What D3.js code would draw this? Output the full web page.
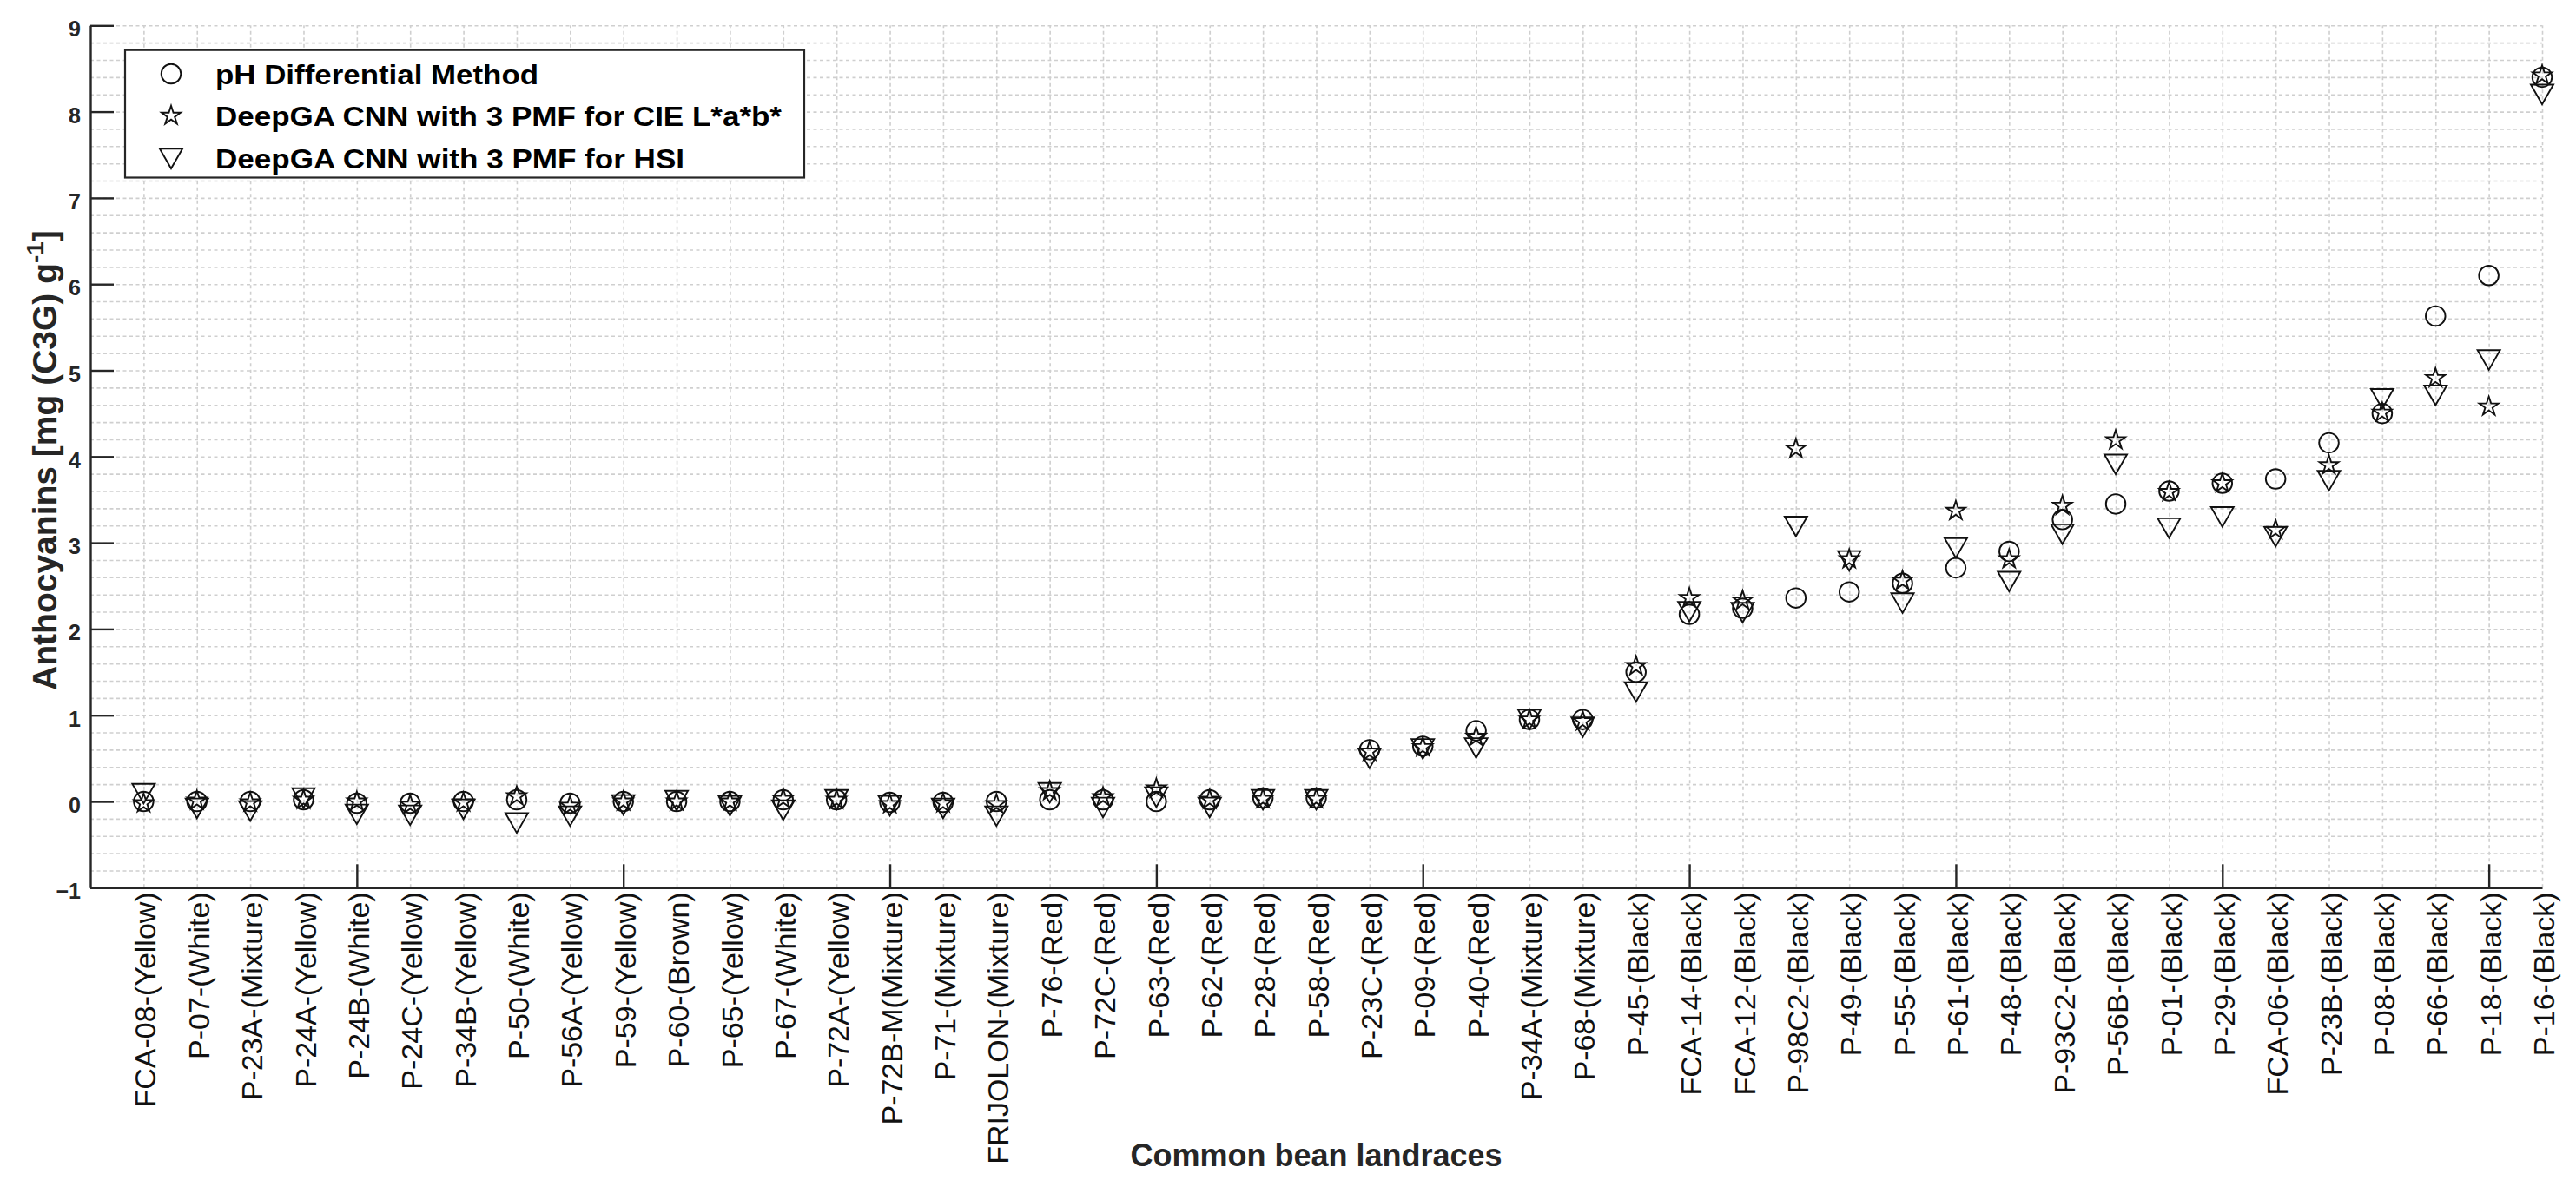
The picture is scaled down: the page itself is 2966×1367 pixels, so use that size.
<!DOCTYPE html>
<html>
<head>
<meta charset="utf-8">
<script src="https://cdn.jsdelivr.net/npm/d3@7"></script>
<style>
  html, body { margin: 0; padding: 0; background: #ffffff; }
  svg { display: block; }
</style>
</head>
<body>
<svg id="chart" width="2966" height="1367"></svg>
<script>
// ---------------- DATA ----------------
const categories = [
  "FCA-08-(Yellow)", "P-07-(White)", "P-23A-(Mixture)", "P-24A-(Yellow)", "P-24B-(White)",
  "P-24C-(Yellow)", "P-34B-(Yellow)", "P-50-(White)", "P-56A-(Yellow)", "P-59-(Yellow)",
  "P-60-(Brown)", "P-65-(Yellow)", "P-67-(White)", "P-72A-(Yellow)", "P-72B-M(Mixture)",
  "P-71-(Mixture)", "FRIJOLON-(Mixture)", "P-76-(Red)", "P-72C-(Red)", "P-63-(Red)",
  "P-62-(Red)", "P-28-(Red)", "P-58-(Red)", "P-23C-(Red)", "P-09-(Red)",
  "P-40-(Red)", "P-34A-(Mixture)", "P-68-(Mixture)", "P-45-(Black)", "FCA-14-(Black)",
  "FCA-12-(Black)", "P-98C2-(Black)", "P-49-(Black)", "P-55-(Black)", "P-61-(Black)",
  "P-48-(Black)", "P-93C2-(Black)", "P-56B-(Black)", "P-01-(Black)", "P-29-(Black)",
  "FCA-06-(Black)", "P-23B-(Black)", "P-08-(Black)", "P-66-(Black)", "P-18-(Black)",
  "P-16-(Black)"
];

// pH Differential Method (circles)
const phValues = [
  0.00, 0.00, 0.00, 0.02, -0.02, -0.02, 0.00, 0.02, -0.02, 0.00,
  0.00, 0.00, 0.02, 0.02, -0.01, -0.01, 0.00, 0.02, 0.02, 0.00,
  0.02, 0.04, 0.04, 0.60, 0.64, 0.82, 0.95, 0.95, 1.50, 2.17,
  2.24, 2.36, 2.43, 2.53, 2.71, 2.90, 3.27, 3.45, 3.60, 3.69,
  3.74, 4.16, 4.50, 5.63, 6.10, 8.40
];

// DeepGA CNN with 3 PMF for CIE L*a*b* (stars)
const cieValues = [
  -0.02, 0.01, -0.01, 0.02, 0.00, -0.04, -0.01, 0.06, -0.05, 0.00,
  0.00, 0.00, 0.03, 0.02, -0.03, -0.02, -0.03, 0.12, 0.05, 0.15,
  0.02, 0.03, 0.03, 0.58, 0.63, 0.75, 0.95, 0.93, 1.57, 2.36,
  2.33, 4.09, 2.81, 2.56, 3.37, 2.81, 3.43, 4.19, 3.59, 3.69,
  3.15, 3.90, 4.51, 4.91, 4.58, 8.42
];

// DeepGA CNN with 3 PMF for HSI (down triangles)
const hsiValues = [
  0.09, -0.08, -0.11, 0.04, -0.15, -0.16, -0.09, -0.25, -0.17, -0.04,
  0.01, -0.05, -0.10, 0.02, -0.05, -0.08, -0.17, 0.10, -0.07, 0.05,
  -0.07, 0.02, 0.02, 0.50, 0.61, 0.62, 0.95, 0.86, 1.27, 2.20,
  2.19, 3.19, 2.79, 2.30, 2.94, 2.55, 3.10, 3.91, 3.17, 3.30,
  3.07, 3.72, 4.67, 4.71, 5.12, 8.20
];

const yTicks = [-1, 0, 1, 2, 3, 4, 5, 6, 7, 8, 9];
const xMajorTicks = [5, 10, 15, 20, 25, 30, 35, 40, 45];
const legendLabels = [
  "pH Differential Method",
  "DeepGA CNN with 3 PMF for CIE L*a*b*",
  "DeepGA CNN with 3 PMF for HSI"
];
const xTitle = "Common bean landraces";

// ---------------- LAYOUT ----------------
const svg = d3.select("#chart");
const X0 = 104, X1 = 2927, Y0 = 1022.3, Y1 = 29.3;
const x = d3.scaleLinear().domain([0, categories.length]).range([X0, X1]);
const y = d3.scaleLinear().domain([-1, 9]).range([Y0, Y1]);

const axisColor = "#262626";
const gridColor = "#cfcfcf";

svg.append("rect").attr("width", 2966).attr("height", 1367).attr("fill", "#fff");

// ---------------- GRID ----------------
const gridG = svg.append("g").attr("class", "grid");
gridG.append("g")
  .attr("transform", `translate(0,${Y0})`)
  .call(d3.axisBottom(x).tickValues(d3.range(1, categories.length + 1))
    .tickSize(-(Y0 - Y1)).tickFormat(""))
  .call(g => g.select(".domain").remove())
  .call(g => g.selectAll("line").attr("stroke", gridColor)
    .attr("stroke-width", 1.6).attr("stroke-dasharray", "4,3.5"));
gridG.append("g")
  .attr("transform", `translate(${X0},0)`)
  .call(d3.axisLeft(y).tickValues(d3.range(-0.8, 9.001, 0.2))
    .tickSize(-(X1 - X0)).tickFormat(""))
  .call(g => g.select(".domain").remove())
  .call(g => g.selectAll("line").attr("stroke", gridColor)
    .attr("stroke-width", 1.6).attr("stroke-dasharray", "4,3.5"));

// ---------------- AXES ----------------
svg.append("g")
  .attr("transform", `translate(${X0},0)`)
  .call(d3.axisLeft(y).tickValues(yTicks).tickFormat(d3.format("d"))
    .tickSizeInner(-27).tickSizeOuter(0).tickPadding(11))
  .call(g => g.select(".domain").attr("stroke", axisColor).attr("stroke-width", 2.4))
  .call(g => g.selectAll(".tick line").attr("stroke", axisColor).attr("stroke-width", 2.4))
  .call(g => g.selectAll(".tick text")
    .attr("fill", axisColor)
    .attr("font-family", "Liberation Sans, Arial, sans-serif")
    .attr("font-weight", "bold")
    .attr("font-size", 25)
    .attr("dy", "0.5em"));

svg.append("g")
  .attr("transform", `translate(0,${Y0})`)
  .call(d3.axisBottom(x).tickValues(d3.range(1, categories.length + 1))
    .tickFormat(d => categories[d - 1]).tickSize(0).tickSizeOuter(0))
  .call(g => g.select(".domain").attr("stroke", axisColor).attr("stroke-width", 2.4))
  .call(g => g.selectAll(".tick text")
    .attr("fill", "#111")
    .attr("font-family", "Liberation Sans, Arial, sans-serif")
    .attr("font-size", 34)
    .attr("transform", "rotate(-90)")
    .attr("text-anchor", "end")
    .attr("x", -5)
    .attr("y", 0)
    .attr("dy", "0.40em"));

svg.append("g")
  .attr("transform", `translate(0,${Y0})`)
  .call(d3.axisBottom(x).tickValues(xMajorTicks).tickFormat("")
    .tickSizeInner(-27).tickSizeOuter(0))
  .call(g => g.select(".domain").remove())
  .call(g => g.selectAll(".tick line").attr("stroke", axisColor).attr("stroke-width", 2.4));

svg.append("text")
  .attr("x", (X0 + X1) / 2)
  .attr("y", 1343)
  .attr("text-anchor", "middle")
  .attr("font-family", "Liberation Sans, Arial, sans-serif")
  .attr("font-weight", "bold")
  .attr("font-size", 36)
  .attr("fill", axisColor)
  .text(xTitle);

const yTitle = svg.append("text")
  .attr("transform", `translate(65,530) rotate(-90)`)
  .attr("text-anchor", "middle")
  .attr("font-family", "Liberation Sans, Arial, sans-serif")
  .attr("font-weight", "bold")
  .attr("font-size", 39)
  .attr("fill", axisColor);
yTitle.append("tspan").text("Anthocyanins [mg (C3G) g");
yTitle.append("tspan").attr("font-size", 28).attr("dy", -15).text("-1");
yTitle.append("tspan").attr("dy", 15).text("]");

// ---------------- MARKERS ----------------
const R_CIRCLE = 11.3;
function starPath(cx, cy, R) {
  const r = R * 0.382;
  const pts = [];
  for (let k = 0; k < 10; k++) {
    const a = -Math.PI / 2 + k * Math.PI / 5;
    const rr = k % 2 === 0 ? R : r;
    pts.push([cx + rr * Math.cos(a), cy + rr * Math.sin(a)]);
  }
  return "M" + pts.map(p => p.join(",")).join("L") + "Z";
}
function triPath(cx, cy) {
  const w = 13, h = 11.3;
  return `M${cx - w},${cy - h}L${cx + w},${cy - h}L${cx},${cy + h}Z`;
}

const markG = svg.append("g").attr("fill", "none").attr("stroke", "#111").attr("stroke-width", 1.9);

markG.selectAll("circle.ph").data(phValues).join("circle")
  .attr("class", "ph")
  .attr("cx", (d, i) => x(i + 1))
  .attr("cy", d => y(d))
  .attr("r", R_CIRCLE);

markG.selectAll("path.cie").data(cieValues).join("path")
  .attr("class", "cie")
  .attr("d", (d, i) => starPath(x(i + 1), y(d), 11.5));

markG.selectAll("path.hsi").data(hsiValues).join("path")
  .attr("class", "hsi")
  .attr("d", (d, i) => triPath(x(i + 1), y(d)));

// ---------------- LEGEND ----------------
const legG = svg.append("g");
legG.append("rect")
  .attr("x", 144).attr("y", 57.7).attr("width", 782).attr("height", 146.8)
  .attr("fill", "#fff").attr("stroke", axisColor).attr("stroke-width", 2.2);

const rowsY = [85, 133.3, 182.7];
const textLens = [372, 652, 540];
legG.append("circle").attr("cx", 197).attr("cy", rowsY[0]).attr("r", R_CIRCLE)
  .attr("fill", "none").attr("stroke", "#111").attr("stroke-width", 1.9);
legG.append("path").attr("d", starPath(197, rowsY[1], 11.5))
  .attr("fill", "none").attr("stroke", "#111").attr("stroke-width", 1.9);
legG.append("path").attr("d", triPath(197, rowsY[2]))
  .attr("fill", "none").attr("stroke", "#111").attr("stroke-width", 1.9);

legG.selectAll("text.leg").data(legendLabels).join("text")
  .attr("class", "leg")
  .attr("x", 248)
  .attr("y", (d, i) => rowsY[i] + 11.5)
  .attr("font-family", "Liberation Sans, Arial, sans-serif")
  .attr("font-weight", "bold")
  .attr("font-size", 31)
  .attr("fill", "#000")
  .attr("textLength", (d, i) => textLens[i])
  .attr("lengthAdjust", "spacingAndGlyphs")
  .text(d => d);
</script>
</body>
</html>
